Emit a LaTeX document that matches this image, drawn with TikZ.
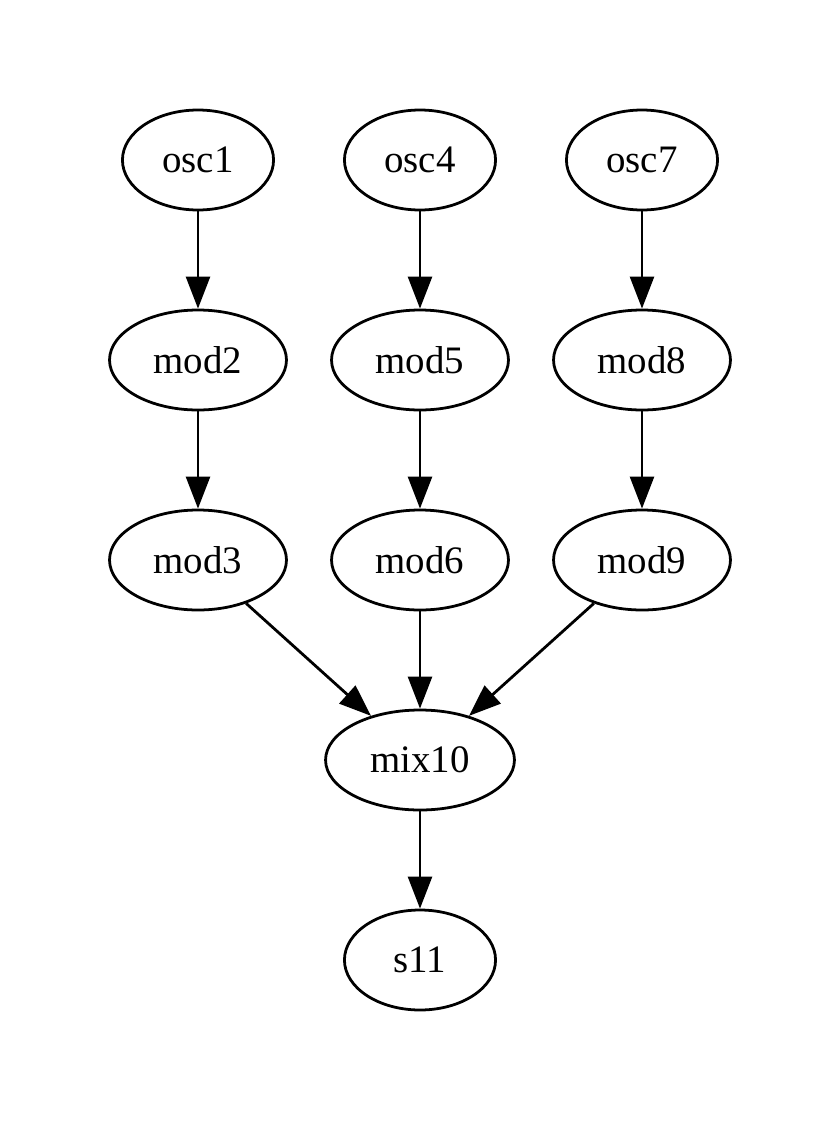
\documentclass[tikz,border=0pt]{standalone}
\usepackage{fontspec}
\setmainfont{Liberation Serif}
\usetikzlibrary{shapes.geometric,arrows.meta}
\begin{document}
\begin{tikzpicture}[x=0.36pt,y=-0.36pt,
  nd/.style={draw,ellipse,line width=1pt,inner sep=0pt,minimum height=36pt,font=\fontsize{14pt}{16pt}\selectfont},
  small/.style={nd,minimum width=54.4pt},
  mid/.style={nd,minimum width=63.7pt},
  wide/.style={nd,minimum width=68pt},
  edge/.style={line width=1pt,-{Triangle[length=11.5pt,width=8.6pt]}}]
\useasboundingbox (0,0) rectangle (839,1123);
\node[small] (osc1) at (198,160) {osc1};
\node[small] (osc4) at (420,160) {osc4};
\node[small] (osc7) at (642,160) {osc7};
\node[mid] (mod2) at (198,360) {mod2};
\node[mid] (mod5) at (420,360) {mod5};
\node[mid] (mod8) at (642,360) {mod8};
\node[mid] (mod3) at (198,560) {mod3};
\node[mid] (mod6) at (420,560) {mod6};
\node[mid] (mod9) at (642,560) {mod9};
\node[wide] (mix10) at (420,760) {mix10};
\node[small] (s11) at (420,960) {s11};
\draw[edge] (osc1) -- (mod2);
\draw[edge] (mod2) -- (mod3);
\draw[edge] (osc4) -- (mod5);
\draw[edge] (mod5) -- (mod6);
\draw[edge] (osc7) -- (mod8);
\draw[edge] (mod8) -- (mod9);
\draw[edge] (mod3) -- (mix10);
\draw[edge] (mod6) -- (mix10);
\draw[edge] (mod9) -- (mix10);
\draw[edge] (mix10) -- (s11);
\end{tikzpicture}
\end{document}
